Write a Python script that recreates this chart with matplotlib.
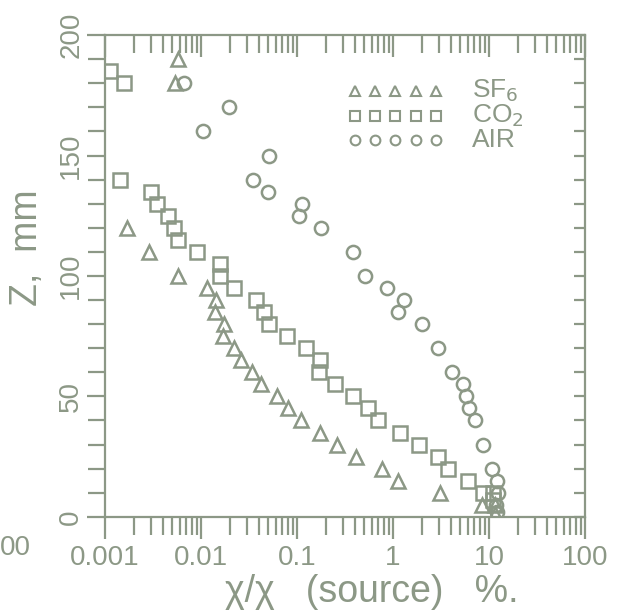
import matplotlib
matplotlib.use("Agg")
import matplotlib.pyplot as plt
from matplotlib.ticker import LogLocator, MultipleLocator, NullFormatter

# data
sf6_x = [0.0058, 0.0054, 0.00168, 0.0029, 0.0057, 0.0115, 0.0143, 0.014, 0.0175,
         0.017, 0.022, 0.0264, 0.034, 0.042, 0.062, 0.081, 0.11, 0.173, 0.26,
         0.41, 0.76, 1.13, 3.07, 8.5, 11.5, 11.5]
sf6_z = [190, 180, 120, 110, 100, 95, 90, 85, 80, 75, 70, 65, 60, 55, 50, 45, 40,
         35, 30, 25, 20, 15, 10, 5, 5, 1]

co2_x = [0.00113, 0.00159, 0.00143, 0.003, 0.00346, 0.0045, 0.0052, 0.0057, 0.009,
         0.0157, 0.0157, 0.022, 0.037, 0.045, 0.051, 0.078, 0.123, 0.173, 0.17,
         0.25, 0.38, 0.55, 0.69, 1.18, 1.86, 2.97, 3.7, 6.0, 8.7, 10.9, 10.9]
co2_z = [185, 180, 140, 135, 130, 125, 120, 115, 110, 105, 100, 95, 90, 85, 80, 75,
         70, 65, 60, 55, 50, 45, 40, 35, 30, 25, 20, 15, 10, 10, 7]

air_x = [0.0067, 0.0197, 0.0105, 0.051, 0.0345, 0.05, 0.1135, 0.106, 0.178, 0.38,
         0.51, 0.86, 1.30, 1.13, 1.99, 2.97, 4.08, 5.3, 5.8, 6.2, 7.1, 8.7, 10.7,
         12.2, 12.3, 11.7, 12.0]
air_z = [180, 170, 160, 150, 140, 135, 130, 125, 120, 110, 100, 95, 90, 85, 80, 70,
         60, 55, 50, 45, 40, 30, 20, 15, 10, 5, 2]

xticks = [0.001, 0.01, 0.1, 1, 10, 100]
xtick_labels = ["0.001", "0.01", "0.1", "1", "10", "100"]
yticks = [0, 50, 100, 150, 200]

ink = "#8c9886"
plt.rcParams["font.family"] = ["Liberation Sans", "DejaVu Sans"]

fig = plt.figure(figsize=(6.29, 6.16), dpi=100)
ax = fig.add_axes([0.167, 0.161, 0.763, 0.782])

mk = dict(linestyle="none", markerfacecolor="none", markeredgecolor=ink,
          markeredgewidth=1.8, markersize=9.5)
ax.plot(sf6_x, sf6_z, marker="^", **mk)
ax.plot(co2_x, co2_z, marker="s", **mk)
ax.plot(air_x, air_z, marker="o", **mk)

ax.set_xscale("log")
ax.set_xlim(0.001, 100)
ax.set_ylim(0, 200)

ax.set_xticks(xticks)
ax.set_xticklabels(xtick_labels)
ax.xaxis.set_minor_locator(LogLocator(base=10, subs=range(2, 10), numticks=20))
ax.xaxis.set_minor_formatter(NullFormatter())
ax.set_yticks(yticks)
ax.yaxis.set_minor_locator(MultipleLocator(10))

for sp in ax.spines.values():
    sp.set_color(ink)
    sp.set_linewidth(1.6)

ax.tick_params(axis="both", which="both", colors=ink, width=1.6,
               labelsize=20, labelcolor=ink)
ax.tick_params(axis="x", which="major", direction="out", length=16, pad=4,
               top=True)
ax.tick_params(axis="x", which="minor", direction="out", length=13, top=True)
ax.tick_params(axis="y", which="major", direction="out", length=13, pad=2,
               right=True)
ax.tick_params(axis="y", which="minor", direction="out", length=12, right=True)
for lab in ax.get_yticklabels():
    lab.set_rotation(90)
    lab.set_va("center")

# top and right ticks point inward
for t in ax.xaxis.get_major_ticks() + ax.xaxis.get_minor_ticks():
    t.tick2line.set_marker(3)
for t in ax.yaxis.get_major_ticks() + ax.yaxis.get_minor_ticks():
    t.tick2line.set_marker(0)
    t.tick2line.set_markersize(8)

ax.set_ylabel("Z,  mm", fontsize=27, color=ink)
ax.yaxis.set_label_coords(-0.125, 0.558)
ax.set_xlabel("χ/χ   (source)   %.", fontsize=27, color=ink)
ax.xaxis.set_label_coords(0.555, -0.118)

# legend drawn as rows of five small markers
leg_x = [0.52, 0.562, 0.605, 0.648, 0.69]
rows = [("^", "SF$_6$", 0.885), ("s", "CO$_2$", 0.832), ("o", "AIR", 0.782)]
for m, name, yy in rows:
    ax.plot(leg_x, [yy] * 5, transform=ax.transAxes, marker=m, linestyle="none",
            markerfacecolor="none", markeredgecolor=ink, markeredgewidth=1.5,
            markersize=7, clip_on=False)
    ax.text(0.765, yy, name, transform=ax.transAxes, fontsize=19, color=ink,
            va="center", ha="left")

# cut-off label from the neighbouring panel
fig.text(0.025, 0.11, "00", fontsize=20, color=ink, ha="center", va="center")

fig.savefig("out.png", dpi=100)
